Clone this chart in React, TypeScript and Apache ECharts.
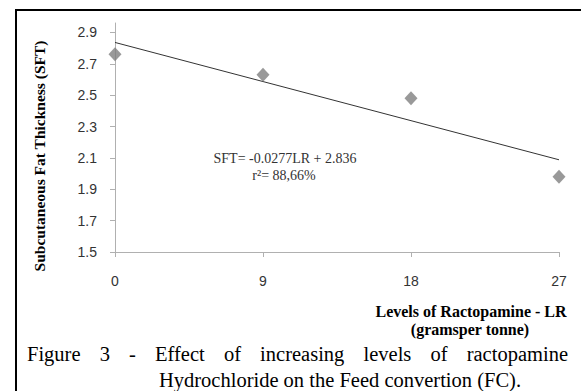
import React, { useEffect, useRef } from "react";
import * as echarts from "echarts";

const levels = [0, 9, 18, 27];
const sft = [2.76, 2.63, 2.48, 1.98];
const trendX = [0, 27];
const trendY = [2.836, 2.088];
const yTicks = [1.5, 1.7, 1.9, 2.1, 2.3, 2.5, 2.7, 2.9];
const equationText = "SFT= -0.0277LR + 2.836";
const r2Text = "r\u00B2= 88,66%";
const yTitle = "Subcutaneous Fat Thickness (SFT)";
const xTitle1 = "Levels of Ractopamine - LR";
const xTitle2 = "(gramsper tonne)";
const captionLine1 = ["Figure", "3", "-", "Effect", "of", "increasing", "levels", "of", "ractopamine"];
const captionLine2 = "Hydrochloride on the Feed convertion (FC).";

export default function App() {
  const ref = useRef<HTMLDivElement>(null);
  useEffect(() => {
    if (!ref.current) return;
    const chart = echarts.init(ref.current, null, { renderer: "svg" });
    const serif = "'Liberation Serif', 'Times New Roman', serif";
    const sans = "'Liberation Sans', Arial, sans-serif";
    const captionFont = `20.5px ${serif}`;

    const cv = document.createElement("canvas");
    const ctx = cv.getContext("2d")!;
    ctx.font = captionFont;
    const widths = captionLine1.map((w) => ctx.measureText(w).width);
    const total = widths.reduce((a, b) => a + b, 0);
    const lineL = 27;
    const lineR = 568;
    const gap = (lineR - lineL - total) / (captionLine1.length - 1);
    let cx = lineL;

    const graphics: any[] = [
      {
        type: "rect",
        shape: { x: 15, y: 9, width: 566, height: 2 },
        style: { fill: "#000" },
        z: 100,
      },
      {
        type: "rect",
        shape: { x: 15, y: 9, width: 2, height: 382 },
        style: { fill: "#000" },
        z: 100,
      },
      {
        type: "text",
        x: 285,
        y: 158,
        style: { text: equationText, fill: "#333", font: `14px ${serif}`, align: "center", verticalAlign: "middle" },
      },
      {
        type: "text",
        x: 284,
        y: 175,
        style: { text: r2Text, fill: "#333", font: `14px ${serif}`, align: "center", verticalAlign: "middle" },
      },
      {
        type: "text",
        x: 39,
        y: 156,
        rotation: Math.PI / 2,
        style: { text: yTitle, fill: "#000", font: `bold 15.5px ${serif}`, align: "center", verticalAlign: "middle" },
      },
      {
        type: "text",
        x: 471,
        y: 311,
        style: { text: xTitle1, fill: "#000", font: `bold 16px ${serif}`, align: "center", verticalAlign: "middle" },
      },
      {
        type: "text",
        x: 470,
        y: 329,
        style: { text: xTitle2, fill: "#000", font: `bold 16px ${serif}`, align: "center", verticalAlign: "middle" },
      },
      {
        type: "text",
        x: 340,
        y: 380,
        style: { text: captionLine2, fill: "#000", font: captionFont, align: "center", verticalAlign: "middle" },
      },
    ];
    captionLine1.forEach((w, i) => {
      graphics.push({
        type: "text",
        x: cx,
        y: 354,
        style: { text: w, fill: "#000", font: captionFont, align: "left", verticalAlign: "middle" },
      });
      cx += widths[i] + gap;
    });

    chart.setOption({
      animation: false,
      grid: { left: 115, right: 22, top: 23, bottom: 139, containLabel: false },
      xAxis: {
        type: "value",
        min: 0,
        max: 27,
        interval: 9,
        axisLine: { show: true, lineStyle: { color: "#b0b0b0", width: 1 } },
        axisTick: { show: true, length: 5, inside: false, lineStyle: { color: "#b0b0b0" } },
        axisLabel: { margin: 22, color: "#333", fontSize: 14, fontFamily: sans },
        splitLine: { show: false },
      },
      yAxis: {
        type: "value",
        min: 1.5,
        max: 2.96,
        axisLine: { show: true, lineStyle: { color: "#b0b0b0", width: 1 } },
        axisTick: { show: true, length: 5, customValues: yTicks, lineStyle: { color: "#b0b0b0" } },
        axisLabel: {
          customValues: yTicks,
          margin: 18,
          color: "#333",
          fontSize: 14,
          fontFamily: sans,
          formatter: (v: number) => v.toFixed(1),
        },
        splitLine: { show: false },
      },
      series: [
        {
          type: "line",
          data: trendX.map((x, i) => [x, trendY[i]]),
          symbol: "none",
          lineStyle: { color: "#333", width: 1 },
          z: 2,
        },
        {
          type: "scatter",
          data: levels.map((x, i) => [x, sft[i]]),
          symbol: "diamond",
          symbolSize: [13, 14],
          itemStyle: { color: "#7f7f7f" },
          z: 3,
        },
      ],
      graphic: graphics,
    });
    return () => chart.dispose();
  }, []);
  return (
    <div style={{ position: "absolute", left: 0, top: 0, width: 581, height: 391, background: "#fff", overflow: "hidden" }}>
      <div ref={ref} style={{ position: "absolute", left: 0, top: 0, width: 581, height: 391 }} />
      <div
        style={{
          position: "absolute",
          left: 15,
          top: 9,
          width: 566,
          height: 382,
          borderLeft: "2px solid #000",
          borderTop: "2px solid #000",
          boxSizing: "border-box",
          pointerEvents: "none",
          zIndex: 5,
        }}
      />
    </div>
  );
}
